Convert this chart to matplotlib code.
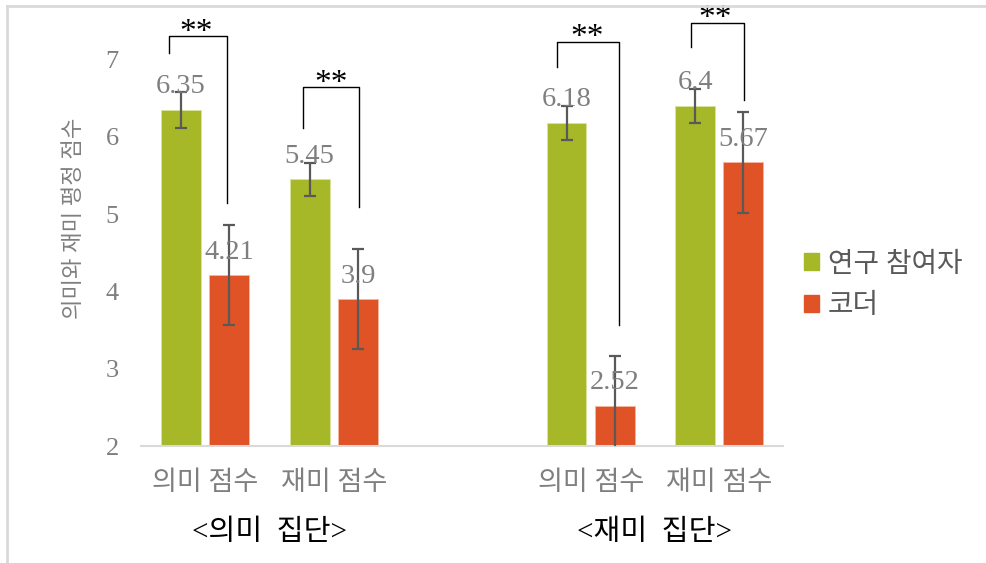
import numpy as np
import matplotlib
matplotlib.use('Agg')
import matplotlib.pyplot as plt
from matplotlib.lines import Line2D
from matplotlib.patches import Patch

plt.rcParams['font.family'] = ['Liberation Serif', 'Noto Sans CJK KR']

# scores per category; the empty middle slot separates the two groups
categories = ['의미 점수', '재미 점수', '', '의미 점수', '재미 점수']
researcher = [6.35, 5.45, np.nan, 6.18, 6.4]
coder = [4.21, 3.9, np.nan, 2.52, 5.67]
researcher_err = [0.23, 0.21, np.nan, 0.215, 0.225]
coder_err = [0.65, 0.65, np.nan, 0.65, 0.65]
series_names = ['연구 참여자', '코더']
group_names = ['<의미  집단>', '<재미  집단>']
yticks = [2, 3, 4, 5, 6, 7]

# significance brackets: (category, left x, right x, top y, left foot, right foot, star x)
brackets = [
    (0, -0.28, 0.17, 7.30, 7.08, 5.14, -0.07),
    (1, -0.24, 0.20, 6.64, 6.11, 5.09, -0.02),
    (3, -0.26, 0.22, 7.23, 6.91, 3.57, -0.03),
    (4, -0.22, 0.19, 7.47, 7.16, 6.48, -0.03),
]

GREEN = '#A6B727'
RED = '#E05326'
GREY = '#7F7F7F'

fig = plt.figure(figsize=(9.86, 5.63), dpi=100)
ax = fig.add_axes([0.1430, 0.2078, 0.6516, 0.7549])

x = np.arange(len(categories))
w = 0.31
off = 0.188
ax.bar(x - off, researcher, w, color=GREEN, edgecolor='#d9e4a0', linewidth=0.6, label=series_names[0])
ax.bar(x + off, coder, w, color=RED, edgecolor='#f2b8a0', linewidth=0.6, label=series_names[1])
ax.errorbar(x - off, researcher, yerr=researcher_err, fmt='none', ecolor='#595959',
            elinewidth=1.6, capsize=4.5, capthick=1.6, zorder=3)
ax.errorbar(x + off, coder, yerr=coder_err, fmt='none', ecolor='#595959',
            elinewidth=1.6, capsize=4.5, capthick=1.6, zorder=3)

for xs, vals in ((x - off, researcher), (x + off, coder)):
    for xi, v in zip(xs, vals):
        if np.isnan(v):
            continue
        ax.annotate(f'{v:g}', (xi, v), xytext=(0, 12), textcoords='offset points',
                    ha='center', va='baseline', fontsize=20.5, color=GREY, zorder=4)

for cat, lx, rx, top, lf, rf, sx in brackets:
    ax.plot([cat + lx, cat + lx, cat + rx, cat + rx], [lf, top, top, rf],
            color='black', lw=1.0, clip_on=False, zorder=5)
    ax.annotate('**', (cat + sx, top), xytext=(0, -3), textcoords='offset points',
                ha='center', va='baseline', fontsize=24, color='black')

ax.set_xlim(-0.5, len(categories) - 0.5)
ax.set_ylim(2, 7.5)
ax.set_yticks(yticks)
ax.set_yticklabels([str(t) for t in yticks], fontsize=19, color=GREY)
ax.set_xticks(x)
ax.set_xticklabels(categories, fontsize=19.5, color=GREY)
ax.tick_params(axis='y', length=0, pad=16)
ax.tick_params(axis='x', length=0, pad=18)
for s in ('top', 'right', 'left'):
    ax.spines[s].set_visible(False)
ax.spines['bottom'].set_color('#d9d9d9')
ax.spines['bottom'].set_linewidth(1.5)

for gx, name in zip((0.5, 3.5), group_names):
    ax.annotate(name, (gx, 0.053), xycoords=('data', 'figure fraction'),
                ha='center', va='center', fontsize=21, color='black')

fig.text(0.076, 0.613, '의미와 재미 평정 점수', rotation=90, ha='center', va='center',
         fontsize=16, color=GREY)

handles = [Patch(color=GREEN), Patch(color=RED)]
leg = fig.legend(handles, series_names, loc='center left', bbox_to_anchor=(0.79, 0.492),
                 frameon=False, fontsize=20, handlelength=0.55, handleheight=0.55,
                 handletextpad=0.3, labelspacing=0.6)
for t in leg.get_texts():
    t.set_color('#595959')

# chart frame edges
fig.add_artist(Line2D([7 / 986, 1], [1 - 6 / 563, 1 - 6 / 563], color='#d9d9d9', lw=2))
fig.add_artist(Line2D([7 / 986, 7 / 986], [0, 1 - 6 / 563], color='#d9d9d9', lw=2))

fig.savefig('out.png', dpi=100)
